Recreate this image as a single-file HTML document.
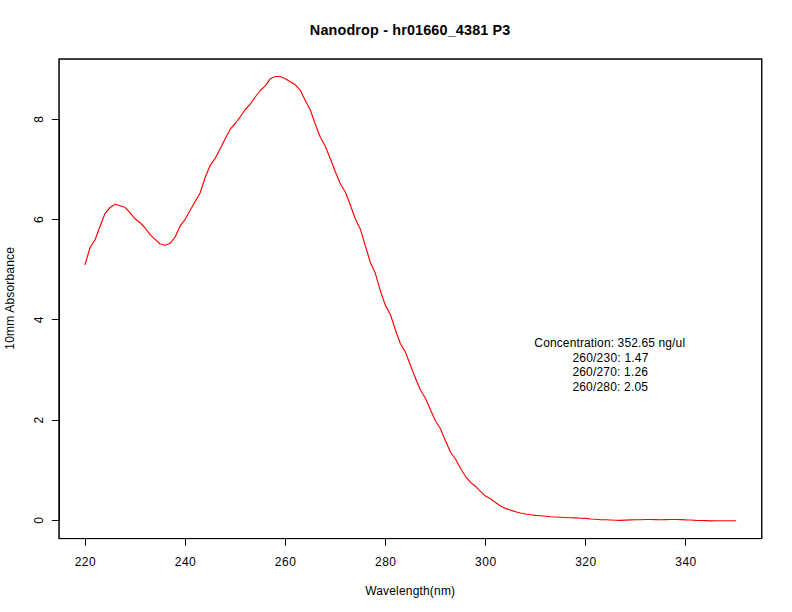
<!DOCTYPE html>
<html><head><meta charset="utf-8">
<style>
html,body{margin:0;padding:0;background:#fff;}
body{width:792px;height:612px;overflow:hidden;position:relative;font-family:"Liberation Sans",sans-serif;}
svg{position:absolute;left:0;top:0;}
text{font-family:"Liberation Sans",sans-serif;fill:#000;}
</style></head><body>
<svg width="792" height="612" viewBox="0 0 792 612">
<rect x="0" y="0" width="792" height="612" fill="#fff"/>
<g fill="none" stroke="#000" stroke-width="1">
<polyline id="curve" stroke="#ff0000" stroke-width="1.15" stroke-linecap="round" stroke-linejoin="round" points="85.07,264.5 90.07,247.5 95.08,239.7 100.08,226.3 105.09,213.3 110.09,207.5 115.10,204.3 120.10,205.7 125.11,207.3 130.11,212.8 135.12,218.8 140.12,222.7 145.13,228.0 150.13,234.7 155.14,239.3 160.14,244.0 165.15,245.2 170.15,243.3 175.16,237.0 180.16,225.8 185.17,219.3 190.17,210.3 195.18,201.5 200.18,192.8 205.19,177.5 210.19,165.30 215.20,158.3 220.21,148.7 225.21,138.7 230.22,129.2 235.22,123.5 240.23,116.8 245.23,109.5 250.24,104.2 255.24,97.0 260.25,90.5 265.25,85.8 270.26,78.8 275.26,76.5 280.27,76.5 285.27,78.7 290.28,81.7 295.28,84.7 300.29,90.3 305.29,100.5 310.30,110.0 315.30,124.2 320.31,137.3 325.31,146.2 330.32,158.8 335.32,171.7 340.33,183.7 345.33,192.0 350.34,205.0 355.34,219.0 360.35,229.2 365.35,245.8 370.36,262.5 375.36,273.3 380.37,290.8 385.37,305.4 390.38,314.5 395.38,329.7 400.39,343.7 405.39,352.0 410.40,365.3 415.41,378.0 420.41,390.0 425.42,398.2 430.42,409.7 435.43,420.8 440.43,428.7 445.44,440.8 450.44,452.0 455.45,459.0 460.45,468.3 465.46,476.3 470.46,482.4 475.47,486.3 480.47,491.3 485.48,496.10 490.48,498.7 495.49,502.5 500.49,506.00 505.50,508.40 510.50,510.10 515.51,511.80 520.51,513.00 525.52,514.00 530.52,514.80 535.53,515.35 540.53,515.7 545.54,516.2 550.54,516.7 555.55,517.0 560.55,517.3 565.56,517.5 570.56,517.7 575.57,517.9 580.57,518.2 585.58,518.4 590.58,519.0 595.59,519.3 600.59,519.7 605.60,519.8 610.61,520.0 615.61,520.20 620.62,520.40 625.62,520.10 630.63,519.9 635.63,519.8 640.64,519.7 645.64,519.5 650.65,519.5 655.65,519.6 660.66,519.7 665.66,519.6 670.67,519.5 675.67,519.5 680.68,519.6 685.68,519.9 690.69,520.00 695.69,520.40 700.70,520.45 705.70,520.60 710.71,520.85 715.71,520.80 720.72,520.75 725.72,520.75 730.73,520.75 735.73,520.70"/>
<rect x="59.04" y="59.04" width="702.72" height="479.52"/>
<rect x="59.04" y="59.04" width="702.72" height="479.52"/>
<line x1="85.00" y1="538.50" x2="686.00" y2="538.50"/>
<line x1="85.50" y1="538.56" x2="85.50" y2="545.76"/>
<line x1="185.50" y1="538.56" x2="185.50" y2="545.76"/>
<line x1="285.50" y1="538.56" x2="285.50" y2="545.76"/>
<line x1="385.50" y1="538.56" x2="385.50" y2="545.76"/>
<line x1="485.50" y1="538.56" x2="485.50" y2="545.76"/>
<line x1="585.50" y1="538.56" x2="585.50" y2="545.76"/>
<line x1="685.50" y1="538.56" x2="685.50" y2="545.76"/>
<line x1="59.50" y1="521.00" x2="59.50" y2="119.00"/>
<line x1="59.04" y1="520.50" x2="51.84" y2="520.50"/>
<line x1="59.04" y1="420.50" x2="51.84" y2="420.50"/>
<line x1="59.04" y1="319.50" x2="51.84" y2="319.50"/>
<line x1="59.04" y1="219.50" x2="51.84" y2="219.50"/>
<line x1="59.04" y1="119.50" x2="51.84" y2="119.50"/>
</g>
<g font-size="12" text-anchor="middle">
<text x="85.17" y="566" textLength="21">220</text>
<text x="185.27" y="566" textLength="21">240</text>
<text x="285.37" y="566" textLength="21">260</text>
<text x="385.47" y="566" textLength="21">280</text>
<text x="485.58" y="566" textLength="21">300</text>
<text x="585.68" y="566" textLength="21">320</text>
<text x="685.78" y="566" textLength="21">340</text>
<text transform="translate(43.2,520.50) rotate(-90)">0</text>
<text transform="translate(43.2,420.20) rotate(-90)">2</text>
<text transform="translate(43.2,319.90) rotate(-90)">4</text>
<text transform="translate(43.2,219.70) rotate(-90)">6</text>
<text transform="translate(43.2,119.40) rotate(-90)">8</text>
<text x="410.1" y="595" textLength="89.9">Wavelength(nm)</text>
<text transform="translate(14,298.4) rotate(-90)" textLength="102.5">10mm Absorbance</text>
<text x="609.7" y="347" textLength="150.7">Concentration: 352.65 ng/ul</text>
<text x="610.4" y="362" textLength="76">260/230: 1.47</text>
<text x="610.2" y="376" textLength="75.6">260/270: 1.26</text>
<text x="610.2" y="391" textLength="75.6">260/280: 2.05</text>
</g>
<text x="410.1" y="35" font-size="14.4" font-weight="bold" text-anchor="middle" textLength="200.5">Nanodrop - hr01660_4381 P3</text>
</svg>
</body></html>
